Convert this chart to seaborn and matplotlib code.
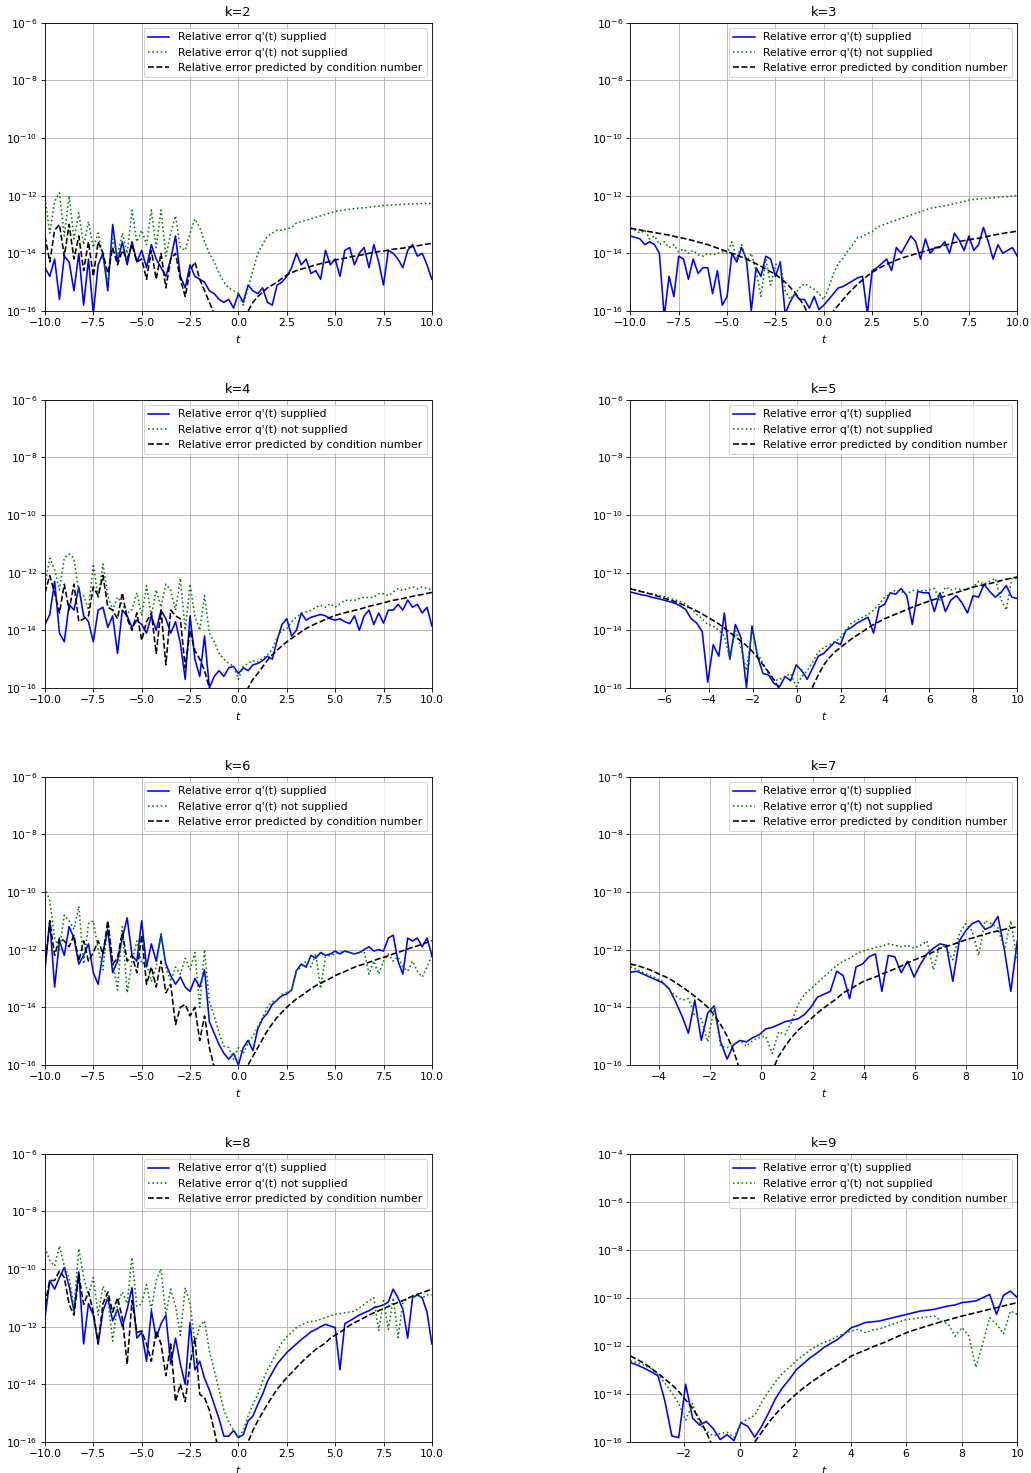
import numpy as np
import matplotlib
matplotlib.use("Agg")
import matplotlib.pyplot as plt
import seaborn as sns
from matplotlib.ticker import NullLocator

# log10 of the relative errors, sampled on an even grid from t_start to 10
labels = ["Relative error q'(t) supplied",
          "Relative error q'(t) not supplied",
          "Relative error predicted by condition number"]

k_values = [2, 3, 4, 5, 6, 7, 8, 9]
t_start = [-10.0, -10.0, -10.0, -7.58, -10.0, -5.12, -10.0, -3.93]
y_top = [-6, -6, -6, -6, -6, -6, -6, -4]

k2_supplied = [-14.5, -14.8, -14.2, -15.6, -14.1, -14.3, -15.3, -14.0, -15.8, -14.2,
               -16.1, -14.4, -14.0, -15.3, -13.0, -14.3, -13.6, -14.4, -13.6, -14.3,
               -13.9, -14.5, -13.7, -14.2, -14.5, -14.8, -14.2, -13.4, -14.8, -15.2,
               -14.4, -14.8, -14.9, -15.0, -15.3, -15.4, -15.6, -15.7, -15.6, -15.9,
               -15.4, -15.7, -15.1, -15.3, -15.4, -15.2, -15.7, -15.8, -15.1, -15.0,
               -14.8, -14.5, -14.0, -14.4, -14.2, -14.7, -14.6, -14.9, -13.9, -14.4,
               -14.2, -14.8, -13.9, -13.8, -14.4, -14.0, -13.8, -14.5, -13.7, -14.3,
               -15.1, -13.9, -14.0, -14.2, -14.5, -13.9, -13.7, -14.1, -14.0, -14.4,
               -14.9]
k2_not_supplied = [-12.1, -13.3, -12.2, -11.9, -13.4, -12.0, -13.5, -12.6, -13.7, -12.9,
                   -13.8, -13.3, -14.2, -15.0, -13.5, -14.1, -13.3, -14.0, -12.5, -13.6,
                   -13.2, -13.7, -12.5, -13.8, -12.5, -14.1, -13.3, -12.7, -13.8, -13.9,
                   -13.3, -12.8, -13.1, -13.6, -14.0, -14.3, -14.7, -15.0, -15.2, -15.3,
                   -15.4, -15.8, -15.2, -14.6, -14.0, -13.7, -13.4, -13.3, -13.2, -13.2,
                   -13.15, -13.1, -12.95, -12.9, -12.85, -12.8, -12.75, -12.7, -12.65, -12.6,
                   -12.55, -12.52, -12.5, -12.47, -12.45, -12.43, -12.42, -12.4, -12.38, -12.36,
                   -12.34, -12.33, -12.32, -12.31, -12.3, -12.29, -12.28, -12.28, -12.27, -12.27,
                   -12.27]
k2_predicted = [-13.4, -14.3, -13.2, -13.0, -14.1, -13.0, -14.2, -13.4, -14.6, -13.6,
                -14.8, -13.6, -14.0, -14.7, -13.8, -14.4, -13.9, -14.2, -13.7, -14.3,
                -14.2, -14.9, -13.9, -14.9, -14.0, -15.2, -14.2, -14.0, -14.9, -15.5,
                -14.6, -14.3, -14.9, -15.3, -15.7, -16.1, -16.6, -17.0, -17.3, -17.5,
                -17.6, -17.0, -16.0, -15.7, -15.5, -15.35, -15.2, -15.1, -15.0, -14.87,
                -14.75, -14.67, -14.6, -14.55, -14.5, -14.45, -14.4, -14.36, -14.32, -14.28,
                -14.23, -14.2, -14.17, -14.13, -14.1, -14.07, -14.04, -14.0, -13.97, -13.94,
                -13.92, -13.89, -13.86, -13.84, -13.82, -13.79, -13.77, -13.74, -13.71, -13.68,
                -13.65]

k3_supplied = [-13.4, -13.45, -13.5, -13.7, -13.6, -13.7, -14.0, -16.2, -14.8, -15.5,
               -14.1, -14.2, -14.9, -14.2, -14.7, -14.5, -14.5, -15.4, -14.6, -15.8,
               -15.5, -14.0, -14.3, -13.8, -14.2, -16.0, -14.5, -14.8, -14.1, -14.2,
               -14.8, -14.3, -16.1, -15.7, -15.4, -15.6, -15.6, -15.9, -15.5, -15.95,
               -15.8, -15.6, -15.4, -15.2, -15.15, -15.05, -14.95, -14.85, -14.8, -16.1,
               -14.6, -14.5, -14.35, -14.2, -14.6, -13.8, -14.0, -13.7, -13.4, -13.6,
               -14.2, -13.5, -14.0, -13.8, -13.8, -13.6, -14.0, -13.3, -13.55, -13.9,
               -13.4, -13.9, -13.7, -13.1, -13.6, -14.2, -13.7, -14.0, -13.9, -13.8,
               -14.1]
k3_not_supplied = [-13.13, -13.2, -13.3, -13.2, -13.5, -13.4, -13.7, -13.6, -13.8, -13.7,
                   -13.95, -13.85, -14.0, -13.9, -14.05, -14.1, -14.0, -14.05, -14.0, -13.95,
                   -14.0, -13.6, -14.2, -13.7, -14.3, -14.0, -14.6, -15.5, -14.2, -15.1,
                   -14.4, -14.3, -15.3, -15.6, -15.4, -15.2, -15.05, -15.15, -15.25, -15.4,
                   -15.6, -15.2, -14.7, -14.35, -14.17, -13.9, -13.7, -13.45, -13.42, -13.31,
                   -13.25, -13.1, -13.03, -12.97, -12.9, -12.85, -12.79, -12.73, -12.67, -12.61,
                   -12.56, -12.5, -12.44, -12.41, -12.38, -12.35, -12.32, -12.28, -12.24, -12.2,
                   -12.15, -12.13, -12.12, -12.1, -12.09, -12.07, -12.06, -12.04, -12.03, -12.01,
                   -12.0]
k3_predicted = [-13.13, -13.16, -13.19, -13.22, -13.25, -13.28, -13.31, -13.34, -13.37, -13.41,
                -13.45, -13.48, -13.52, -13.56, -13.61, -13.65, -13.7, -13.76, -13.82, -13.88,
                -13.94, -14.0, -14.07, -14.13, -14.2, -14.28, -14.36, -14.45, -14.55, -14.64,
                -14.73, -14.86, -15.0, -15.17, -15.35, -15.58, -15.85, -16.2, -16.6, -17.0,
                -17.2, -16.8, -16.0, -15.8, -15.6, -15.4, -15.23, -15.07, -14.92, -14.78,
                -14.66, -14.56, -14.46, -14.38, -14.31, -14.24, -14.17, -14.12, -14.07, -14.02,
                -13.97, -13.92, -13.87, -13.82, -13.77, -13.72, -13.68, -13.63, -13.59, -13.56,
                -13.53, -13.5, -13.48, -13.44, -13.41, -13.37, -13.34, -13.31, -13.28, -13.26,
                -13.23]

k4_supplied = [-13.8, -13.45, -12.3, -14.1, -14.4, -13.1, -13.3, -12.5, -13.5, -13.7,
               -14.4, -13.3, -13.2, -13.9, -13.5, -14.8, -13.3, -13.5, -13.9, -13.65,
               -13.8, -14.1, -13.5, -14.0, -13.3, -13.6, -14.1, -13.7, -14.45, -15.7,
               -13.5, -15.0, -15.6, -14.2, -16.0, -15.6, -15.4, -15.6, -15.3, -15.25,
               -15.5, -15.3, -15.4, -15.2, -15.15, -15.05, -14.9, -15.0, -14.35, -13.8,
               -13.6, -14.2, -14.0, -13.4, -13.65, -13.55, -13.5, -13.45, -13.5, -13.6,
               -13.65, -13.6, -13.7, -13.77, -13.5, -14.0, -13.5, -13.3, -13.8, -13.4,
               -13.75, -13.3, -13.3, -13.1, -13.3, -12.95, -13.2, -13.1, -13.4, -13.2,
               -13.85]
k4_not_supplied = [-12.4, -11.5, -11.9, -12.6, -11.5, -11.35, -11.5, -12.7, -12.8, -13.3,
                   -11.7, -12.9, -11.7, -12.8, -13.3, -12.85, -13.1, -13.4, -13.3, -12.7,
                   -13.5, -12.45, -13.5, -12.6, -13.2, -12.4, -12.6, -13.3, -12.2, -14.0,
                   -12.4, -13.5, -14.0, -12.8, -14.1, -14.4, -14.8, -15.0, -15.15, -15.25,
                   -15.7, -15.25, -15.15, -15.05, -15.1, -14.98, -14.85, -14.65, -14.25, -14.0,
                   -13.95, -13.7, -13.54, -13.42, -13.36, -13.31, -13.2, -13.13, -13.2, -13.08,
                   -13.2, -13.08, -12.96, -12.96, -12.96, -12.9, -12.85, -12.87, -12.85, -12.73,
                   -12.73, -12.8, -12.67, -12.56, -12.62, -12.55, -12.5, -12.56, -12.5, -12.55,
                   -12.6]
k4_predicted = [-12.7, -12.1, -12.7, -13.4, -12.4, -13.3, -12.4, -13.7, -13.6, -13.5,
                -12.5, -12.8, -12.1, -13.2, -13.3, -13.6, -12.7, -13.6, -14.0, -13.4,
                -14.35, -13.7, -13.4, -14.8, -13.3, -15.2, -13.3, -13.5, -13.6, -15.3,
                -14.0, -14.7, -15.0, -15.4, -16.0, -16.5, -16.9, -17.2, -17.4, -17.6,
                -17.6, -17.0, -16.0, -15.7, -15.5, -15.27, -15.04, -14.85, -14.69, -14.54,
                -14.4, -14.28, -14.17, -14.05, -13.94, -13.85, -13.77, -13.7, -13.62, -13.55,
                -13.48, -13.44, -13.39, -13.35, -13.31, -13.27, -13.22, -13.17, -13.13, -13.09,
                -13.05, -13.0, -12.96, -12.93, -12.9, -12.86, -12.82, -12.79, -12.76, -12.72,
                -12.69]

k5_supplied = [-12.67, -12.72, -12.77, -12.8, -12.86, -12.9, -12.95, -13.0, -13.06, -13.15,
               -13.28, -13.6, -13.75, -14.05, -15.8, -14.5, -14.9, -13.4, -15.0, -13.8,
               -14.25, -16.0, -13.85, -14.9, -15.5, -15.55, -15.85, -15.95, -15.6, -15.75,
               -15.2, -15.4, -15.7, -15.3, -14.9, -14.8, -14.6, -14.4, -14.5, -14.0,
               -13.9, -13.75, -13.65, -13.55, -14.1, -13.2, -13.1, -12.7, -12.75, -12.55,
               -12.8, -13.8, -12.65, -12.7, -12.7, -13.35, -12.7, -13.35, -12.95, -12.8,
               -13.05, -13.4, -12.8, -12.85, -12.4, -12.65, -12.85, -12.7, -12.45, -12.85,
               -12.9]
k5_not_supplied = [-12.56, -12.6, -12.65, -12.7, -12.74, -12.78, -12.83, -12.88, -12.94, -13.0,
                   -13.08, -13.25, -13.45, -13.6, -13.8, -13.85, -14.0, -14.2, -15.0, -14.0,
                   -14.6, -15.4, -14.0, -14.8, -15.15, -15.5, -15.75, -15.7, -15.6, -15.5,
                   -15.95, -15.6, -15.4, -15.1, -14.75, -14.6, -14.5, -14.4, -14.25, -14.0,
                   -13.75, -13.65, -13.55, -13.45, -13.3, -13.1, -12.85, -12.75, -12.6, -12.65,
                   -12.75, -12.62, -12.6, -12.65, -12.6, -12.55, -12.95, -12.5, -12.6, -12.55,
                   -12.6, -12.55, -12.5, -12.3, -12.4, -12.3, -12.2, -12.9, -13.3, -12.2,
                   -12.2]
k5_predicted = [-12.56, -12.61, -12.66, -12.71, -12.76, -12.82, -12.88, -12.94, -13.0, -13.07,
                -13.16, -13.24, -13.33, -13.43, -13.55, -13.66, -13.78, -13.92, -14.08, -14.22,
                -14.38, -14.53, -14.72, -14.94, -15.2, -15.45, -15.72, -16.05, -16.5, -17.0,
                -17.4, -17.0, -16.4, -15.95, -15.55, -15.2, -14.95, -14.75, -14.6, -14.45,
                -14.3, -14.17, -14.05, -13.92, -13.8, -13.7, -13.6, -13.52, -13.44, -13.36,
                -13.28, -13.2, -13.13, -13.06, -12.99, -12.93, -12.87, -12.81, -12.75, -12.69,
                -12.63, -12.57, -12.5, -12.46, -12.42, -12.38, -12.33, -12.28, -12.23, -12.19,
                -12.15]

k6_supplied = [-12.7, -11.0, -13.3, -11.7, -12.2, -11.2, -11.6, -12.5, -12.2, -11.8,
               -12.8, -13.2, -12.1, -11.3, -12.8, -12.4, -11.6, -10.9, -12.2, -12.4,
               -11.0, -12.6, -11.8, -12.4, -11.5, -12.5, -12.9, -13.2, -12.95, -13.3,
               -13.45, -13.0, -13.3, -12.7, -14.5, -14.9, -15.3, -15.6, -15.8, -15.6,
               -16.0, -15.4, -15.15, -15.5, -14.75, -14.4, -14.2, -13.9, -13.75, -13.6,
               -13.54, -13.4, -12.73, -12.5, -12.61, -12.2, -12.3, -12.1, -12.2, -12.15,
               -12.05, -12.15, -12.05, -12.1, -12.15, -12.1, -12.0, -11.9, -12.05, -12.0,
               -12.05, -11.6, -11.5, -12.4, -12.85, -11.6, -11.7, -11.6, -11.9, -11.6,
               -12.2]
k6_not_supplied = [-9.85, -10.3, -11.6, -12.0, -10.8, -11.0, -11.3, -10.5, -12.5, -11.1,
                   -11.0, -12.0, -12.7, -11.0, -12.4, -13.4, -11.2, -13.5, -12.4, -11.7,
                   -12.5, -12.4, -13.1, -12.6, -11.4, -12.6, -13.1, -12.6, -12.85, -12.3,
                   -12.7, -12.1, -14.0, -12.0, -13.8, -14.3, -14.9, -15.35, -15.4, -15.8,
                   -15.4, -15.6, -15.25, -15.0, -14.7, -14.35, -14.0, -13.8, -13.77, -13.55,
                   -13.48, -13.42, -12.73, -12.6, -12.4, -12.6, -12.15, -13.35, -12.25, -12.2,
                   -12.15, -12.1, -12.05, -12.1, -12.15, -12.1, -12.05, -12.85, -12.4, -12.85,
                   -12.4, -12.15, -12.4, -12.25, -12.6, -12.75, -12.4, -12.75, -12.95, -12.6,
                   -12.2]
k6_predicted = [-12.6, -11.0, -12.2, -11.6, -11.7, -11.9, -11.5, -12.4, -11.7, -12.4,
                -12.1, -11.7, -12.15, -11.0, -12.5, -12.3, -11.4, -12.4, -12.2, -12.8,
                -11.5, -13.2, -12.6, -13.3, -12.4, -13.5, -13.2, -14.6, -14.0, -13.9,
                -14.3, -14.0, -15.15, -14.3, -15.4, -16.1, -16.8, -17.2, -17.5, -17.7,
                -17.7, -17.0, -16.0, -15.7, -15.4, -15.1, -14.81, -14.57, -14.35, -14.17,
                -14.0, -13.85, -13.71, -13.6, -13.48, -13.36, -13.25, -13.17, -13.08, -13.0,
                -12.9, -12.83, -12.76, -12.68, -12.61, -12.55, -12.5, -12.44, -12.38, -12.32,
                -12.27, -12.21, -12.15, -12.1, -12.04, -11.98, -11.92, -11.87, -11.81, -11.75,
                -11.69]

k7_supplied = [-12.79, -12.75, -12.85, -12.95, -13.05, -13.15, -13.35, -13.8, -14.3, -14.9,
               -13.75, -15.15, -14.2, -13.95, -15.2, -15.8, -15.3, -15.15, -15.2, -15.05,
               -14.95, -14.75, -14.7, -14.6, -14.5, -14.45, -14.4, -14.25, -14.0, -13.65,
               -13.55, -13.45, -12.75, -12.9, -13.7, -12.6, -12.5, -12.25, -12.15, -13.45,
               -12.2, -12.25, -12.8, -12.4, -12.95, -12.5, -12.15, -11.95, -11.8, -11.85,
               -13.1, -11.7, -11.35, -11.1, -11.0, -11.3, -11.2, -10.85, -12.0, -13.45,
               -11.7]
k7_not_supplied = [-12.6, -12.68, -12.8, -12.9, -13.0, -13.1, -13.4, -13.6, -13.75, -13.7,
                   -14.3, -14.4, -15.2, -14.0, -15.35, -15.4, -15.3, -15.15, -15.35, -15.15,
                   -15.05, -15.0, -15.6, -14.85, -14.95, -14.5, -13.9, -13.55, -13.35, -13.15,
                   -12.95, -12.75, -12.55, -12.4, -12.3, -12.15, -12.05, -12.0, -11.92, -11.88,
                   -11.8, -11.85, -11.9, -11.85, -11.95, -11.85, -11.7, -12.7, -11.8, -11.95,
                   -12.35, -11.45, -11.1, -11.35, -12.2, -11.0, -11.1, -11.25, -12.0, -11.0,
                   -12.4]
k7_predicted = [-12.5, -12.55, -12.62, -12.7, -12.8, -12.9, -13.0, -13.14, -13.29, -13.45,
                -13.62, -13.8, -14.0, -14.27, -14.6, -15.0, -15.5, -16.2, -16.8, -17.3,
                -17.6, -17.2, -16.2, -15.7, -15.35, -15.05, -14.8, -14.6, -14.4, -14.2,
                -14.02, -13.86, -13.7, -13.5, -13.38, -13.25, -13.12, -13.03, -12.95, -12.85,
                -12.76, -12.67, -12.57, -12.46, -12.36, -12.27, -12.18, -12.08, -11.96, -11.89,
                -11.82, -11.74, -11.66, -11.6, -11.53, -11.47, -11.4, -11.35, -11.3, -11.25,
                -11.2]

k8_supplied = [-11.69, -10.4, -10.7, -10.3, -9.95, -10.6, -11.45, -10.1, -12.6, -11.2,
               -11.6, -12.6, -11.45, -11.0, -11.8, -11.4, -12.0, -11.4, -10.65, -12.4,
               -12.2, -13.2, -11.45, -12.4, -11.9, -11.6, -13.3, -12.4, -13.3, -14.0,
               -11.86, -13.5, -13.2, -13.8, -14.2, -14.7, -15.2, -15.8, -15.8, -15.6,
               -15.85, -15.75, -15.27, -15.1, -14.7, -14.35, -13.9, -13.6, -13.3, -13.1,
               -12.9, -12.75, -12.6, -12.45, -12.32, -12.18, -12.1, -12.0, -11.92, -11.98,
               -12.03, -13.5, -11.9, -11.8, -11.7, -11.6, -11.52, -11.45, -11.35, -11.3,
               -11.25, -11.15, -10.7, -11.0, -11.4, -12.4, -11.0, -10.9, -11.0, -11.5,
               -12.6]
k8_not_supplied = [-9.26, -9.7, -9.9, -9.2, -9.9, -10.3, -11.35, -9.3, -10.3, -10.9,
                   -10.3, -11.6, -10.6, -11.0, -12.5, -11.2, -10.8, -11.2, -9.6, -11.3,
                   -11.2, -10.55, -11.4, -10.4, -10.0, -11.6, -10.7, -11.3, -12.3, -10.65,
                   -11.2, -12.6, -12.0, -11.8, -12.85, -13.5, -14.2, -14.9, -15.3, -15.6,
                   -15.85, -15.6, -15.1, -14.7, -14.35, -13.9, -13.5, -13.2, -12.85, -12.55,
                   -12.35, -12.2, -12.03, -11.95, -11.86, -11.82, -11.8, -11.75, -11.69, -11.63,
                   -11.57, -11.55, -11.52, -11.5, -11.46, -11.35, -11.23, -11.1, -11.0, -12.15,
                   -11.1, -12.1, -11.0, -12.38, -11.2, -11.0, -11.0, -10.9, -11.0, -10.9,
                   -10.9]
k8_predicted = [-11.23, -10.4, -10.4, -10.07, -10.3, -11.23, -11.6, -10.2, -11.23, -10.8,
                -11.5, -12.6, -11.2, -10.8, -11.5, -11.0, -11.7, -13.3, -11.1, -12.2,
                -12.15, -12.6, -13.2, -12.15, -12.6, -13.7, -12.6, -14.6, -14.0, -14.6,
                -13.3, -12.4, -14.35, -14.46, -14.9, -15.6, -16.4, -17.0, -17.4, -17.6,
                -17.6, -17.0, -16.0, -15.6, -15.27, -14.98, -14.69, -14.43, -14.17, -13.97,
                -13.77, -13.6, -13.42, -13.25, -13.08, -12.94, -12.79, -12.68, -12.57, -12.4,
                -12.3, -12.2, -12.08, -11.96, -11.86, -11.78, -11.69, -11.6, -11.52, -11.45,
                -11.38, -11.3, -11.23, -11.16, -11.1, -11.02, -10.94, -10.88, -10.82, -10.76,
                -10.7]

k9_supplied = [-12.7, -12.8, -12.93, -13.08, -13.25, -14.3, -15.75, -15.82, -13.6, -15.0,
               -15.3, -15.15, -15.45, -15.9, -15.7, -15.95, -15.2, -15.35, -15.8, -15.35,
               -14.8, -14.2, -13.75, -13.4, -13.0, -12.75, -12.5, -12.3, -12.07, -11.9,
               -11.73, -11.5, -11.24, -11.15, -11.03, -11.0, -10.97, -10.9, -10.83, -10.76,
               -10.69, -10.62, -10.55, -10.52, -10.48, -10.41, -10.34, -10.3, -10.2, -10.17,
               -10.13, -10.0, -9.86, -10.69, -9.9, -9.72, -9.99]
k9_not_supplied = [-12.63, -12.7, -12.8, -12.95, -13.2, -13.55, -13.95, -14.4, -15.1, -14.4,
                   -15.25, -15.55, -15.75, -15.65, -15.6, -15.82, -15.2, -15.05, -14.9, -14.35,
                   -13.9, -13.5, -13.15, -12.9, -12.63, -12.4, -12.18, -12.0, -11.87, -11.75,
                   -11.6, -11.48, -11.38, -11.31, -11.45, -11.35, -11.3, -11.2, -11.1, -11.0,
                   -10.9, -10.87, -10.83, -10.8, -10.76, -10.97, -11.1, -11.6, -11.24, -11.6,
                   -12.9, -11.9, -10.83, -11.1, -11.5, -10.55, -10.69]
k9_predicted = [-12.42, -12.57, -12.73, -12.93, -13.15, -13.38, -13.62, -13.9, -14.25, -14.6,
                -15.05, -15.6, -16.25, -16.8, -17.2, -17.5, -17.6, -17.0, -16.0, -15.6,
                -15.2, -14.85, -14.55, -14.27, -14.0, -13.77, -13.55, -13.35, -13.15, -12.97,
                -12.8, -12.62, -12.42, -12.3, -12.18, -12.05, -11.94, -11.83, -11.7, -11.57,
                -11.45, -11.35, -11.26, -11.17, -11.08, -11.0, -10.92, -10.84, -10.76, -10.69,
                -10.62, -10.55, -10.48, -10.41, -10.34, -10.27, -10.2]

supplied = [k2_supplied, k3_supplied, k4_supplied, k5_supplied,
            k6_supplied, k7_supplied, k8_supplied, k9_supplied]
not_supplied = [k2_not_supplied, k3_not_supplied, k4_not_supplied, k5_not_supplied,
                k6_not_supplied, k7_not_supplied, k8_not_supplied, k9_not_supplied]
predicted = [k2_predicted, k3_predicted, k4_predicted, k5_predicted,
             k6_predicted, k7_predicted, k8_predicted, k9_predicted]

# the reference was drawn at a low dpi, so fonts and lines look small
DPI = 77
fig, axes = plt.subplots(4, 2, figsize=(1031 / DPI, 1473 / DPI), dpi=DPI)
fig.subplots_adjust(left=0.0436, right=0.9867, bottom=0.0211, top=0.9846,
                    wspace=0.513, hspace=0.3077)

styles = [("b", "-"), ("g", ":"), ("k", "--")]

for i, ax in enumerate(axes.flat):
    ax.set_yscale("log")
    series = [supplied[i], not_supplied[i], predicted[i]]
    for vals, (color, ls), lab in zip(series, styles, labels):
        t = np.linspace(t_start[i], 10.0, len(vals))
        err = 10.0 ** np.array(vals)
        sns.lineplot(x=t, y=err, ax=ax, color=color, linestyle=ls,
                     linewidth=1.5, label=lab, estimator=None, sort=False)

    ax.set_xlim(t_start[i], 10.0)
    ax.set_ylim(1e-16, 10.0 ** y_top[i])
    ax.set_yticks([10.0 ** e for e in range(-16, y_top[i] + 1, 2)])
    ax.yaxis.set_minor_locator(NullLocator())
    ax.grid(True, color="#b0b0b0", linewidth=0.8)
    ax.set_title(f"k={k_values[i]}", fontsize=12)
    ax.set_xlabel("$t$")
    ax.set_ylabel("")
    ax.legend(loc="upper right", fontsize=10)

plt.savefig("out.png", dpi=DPI)
